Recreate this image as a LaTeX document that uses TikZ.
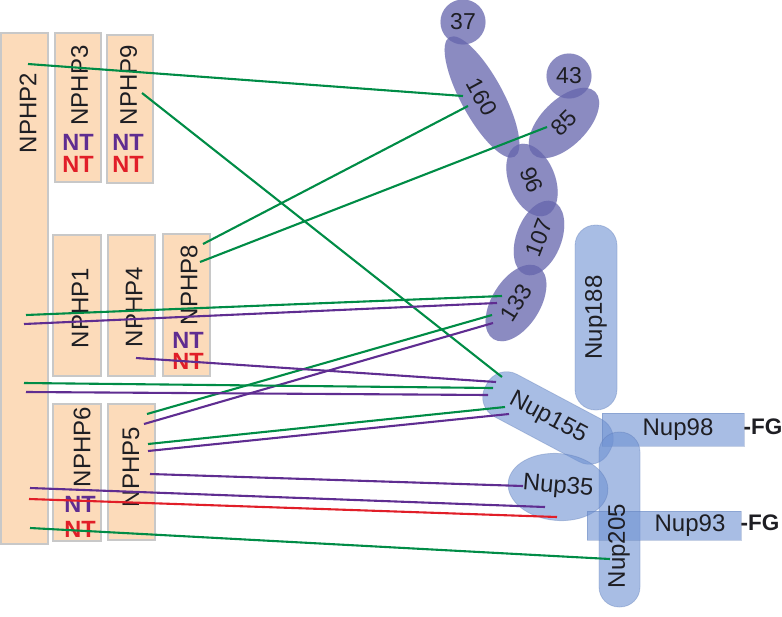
\documentclass[tikz,border=0pt]{standalone}
\usepackage{fontspec}
\setmainfont{Liberation Sans}
\usetikzlibrary{shapes.geometric}
\definecolor{peach}{RGB}{252,219,186}
\definecolor{boxline}{RGB}{200,200,200}
\definecolor{blobc}{RGB}{100,100,172}
\definecolor{nupc}{RGB}{110,145,210}
\definecolor{nupb}{RGB}{90,120,180}
\definecolor{lgreen}{RGB}{0,140,70}
\definecolor{lpurple}{RGB}{95,45,145}
\definecolor{lred}{RGB}{225,30,40}
\definecolor{txt}{RGB}{30,30,35}
\begin{document}
\begin{tikzpicture}[x=1pt,y=-1pt,
  pbox/.style={draw=boxline, line width=1.2pt, fill=peach, inner sep=0pt},
  lab/.style={font=\fontsize{24}{28}\selectfont, inner sep=0pt, text=txt},
  vlab/.style={lab, rotate=90},
  ntp/.style={font=\fontsize{23.5}{28}\selectfont\bfseries, text=lpurple, inner sep=0pt},
  ntr/.style={font=\fontsize{23.5}{28}\selectfont\bfseries, text=lred, inner sep=0pt},
  fg/.style={font=\fontsize{22.5}{26}\selectfont\bfseries, text=txt, inner sep=0pt},
  blob/.style={ellipse, fill=blobc, fill opacity=0.75, text opacity=1, draw=blobc, draw opacity=0.2, inner sep=0pt, font=\fontsize{23}{27}\selectfont, text=txt},
  nup/.style={fill=nupc, fill opacity=0.6, text opacity=1, draw=nupb, draw opacity=0.35, line width=0.8pt, inner sep=0pt, font=\fontsize{24}{28}\selectfont, text=txt},
  gl/.style={draw=lgreen, line width=2.1pt},
  pl/.style={draw=lpurple, line width=2.1pt},
  rl/.style={draw=lred, line width=2.1pt}]
\useasboundingbox (0,0) rectangle (782,616);

% NPHP boxes
\node[pbox, minimum width=47pt, minimum height=511pt] (n2) at (24.5,288.5) {};
\node[pbox, minimum width=46pt, minimum height=149pt] (n3) at (78,107.5) {};
\node[pbox, minimum width=46pt, minimum height=148pt] (n9) at (130,109) {};
\node[pbox, minimum width=48pt, minimum height=141pt] (n1) at (77,305.5) {};
\node[pbox, minimum width=47pt, minimum height=141pt] (n4) at (131.5,305.5) {};
\node[pbox, minimum width=47pt, minimum height=142pt] (n8) at (186.5,305) {};
\node[pbox, minimum width=48pt, minimum height=137pt] (n6) at (77,472.5) {};
\node[pbox, minimum width=47pt, minimum height=136pt] (n5) at (131.5,472) {};

\node[vlab] (t2) at (28,113) {NPHP2};
\node[vlab] (t3) at (79.5,85.5) {NPHP3};
\node[vlab] (t9) at (128.5,85) {NPHP9};
\node[vlab] (t1) at (80,308) {NPHP1};
\node[vlab] (t4) at (134,307) {NPHP4};
\node[vlab] (t8) at (189,285) {NPHP8};
\node[vlab] (t6) at (82,447) {NPHP6};
\node[vlab] (t5) at (131,467) {NPHP5};

\node[ntp] (nt3a) at (78,142) {NT};
\node[ntr] (nt3b) at (78,164) {NT};
\node[ntp] (nt9a) at (128,142) {NT};
\node[ntr] (nt9b) at (128,164) {NT};
\node[ntp] (nt8a) at (188,340) {NT};
\node[ntr] (nt8b) at (188,361) {NT};
\node[ntp] (nt6a) at (80,504) {NT};
\node[ntr] (nt6b) at (80,529) {NT};

% purple complex
\node[blob, circle, minimum size=45pt] (c37) at (463,22) {37};
\node[blob, circle, minimum size=45pt] (c43) at (569,76) {43};
\node[blob, minimum width=136pt, minimum height=42pt, rotate=-61.5] (c160) at (482,97) {160};
\node[blob, minimum width=88pt, minimum height=46pt, rotate=45] (c85) at (564,123) {85};
\node[blob, minimum width=76pt, minimum height=46pt, rotate=-68] (c96) at (532,180) {96};
\node[blob, minimum width=78pt, minimum height=45pt, rotate=69] (c107) at (539,238) {107};
\node[blob, minimum width=85pt, minimum height=48pt, rotate=58] (c133) at (516,303) {133};

% Nup complex
\node[nup, minimum width=185pt, minimum height=42pt, rounded corners=20.5pt, rotate=90] (nup188) at (596,317.5) {Nup188};
\node[nup, minimum width=140pt, minimum height=48pt, rounded corners=22pt, rotate=-28] (nup155) at (548,418) {Nup155};
\node[nup, minimum width=142pt, minimum height=33pt] (nup98) at (673,429.5) {\hspace*{10pt}Nup98};
\node[nup, minimum width=175pt, minimum height=41pt, rounded corners=20pt, rotate=90] (nup205) at (619.5,519.5) {};
\node[nup, ellipse, minimum width=90pt, minimum height=67pt, rotate=-5] (nup35) at (558,487) {Nup35};
\node[nup, minimum width=154pt, minimum height=29pt] (nup93) at (664,525.5) {\hspace*{52pt}Nup93};
\node[lab, rotate=90] (l205) at (619,546) {Nup205};
\node[fg] (fg98) at (763,427) {-FG};
\node[fg] (fg93) at (760,523) {-FG};

% connector end points
\coordinate (s1) at (28,64);    \coordinate (e1) at (463,96);
\coordinate (s2) at (142,93);   \coordinate (e2) at (502,377);
\coordinate (s3) at (203,244);  \coordinate (e3) at (468,106);
\coordinate (s4) at (200,262);  \coordinate (e4) at (547,127);
\coordinate (s5) at (26,315);   \coordinate (e5) at (502,296);
\coordinate (s6) at (24,324);   \coordinate (e6) at (497,303);
\coordinate (s7) at (147,414);  \coordinate (e7) at (492,315);
\coordinate (s8) at (144,424);  \coordinate (e8) at (493,323);
\coordinate (s9) at (136,358);  \coordinate (e9) at (496,382);
\coordinate (s10) at (24,383);  \coordinate (e10) at (493,388);
\coordinate (s11) at (26,392);  \coordinate (e11) at (488,395);
\coordinate (s12) at (148,444); \coordinate (e12) at (505,407);
\coordinate (s13) at (148,451); \coordinate (e13) at (509,414);
\coordinate (s14) at (150,474); \coordinate (e14) at (523,486);
\coordinate (s15) at (30,488);  \coordinate (e15) at (545,507);
\coordinate (s16) at (29,499);  \coordinate (e16) at (557,517);
\coordinate (s17) at (30,528);  \coordinate (e17) at (610,559);

\draw[gl] (s1) -- (e1);
\draw[gl] (s2) -- (e2);
\draw[gl] (s3) -- (e3);
\draw[gl] (s4) -- (e4);
\draw[gl] (s5) -- (e5);
\draw[pl] (s6) -- (e6);
\draw[gl] (s7) -- (e7);
\draw[pl] (s8) -- (e8);
\draw[pl] (s9) -- (e9);
\draw[gl] (s10) -- (e10);
\draw[pl] (s11) -- (e11);
\draw[gl] (s12) -- (e12);
\draw[pl] (s13) -- (e13);
\draw[pl] (s14) -- (e14);
\draw[pl] (s15) -- (e15);
\draw[rl] (s16) -- (e16);
\draw[gl] (s17) -- (e17);
\end{tikzpicture}
\end{document}
